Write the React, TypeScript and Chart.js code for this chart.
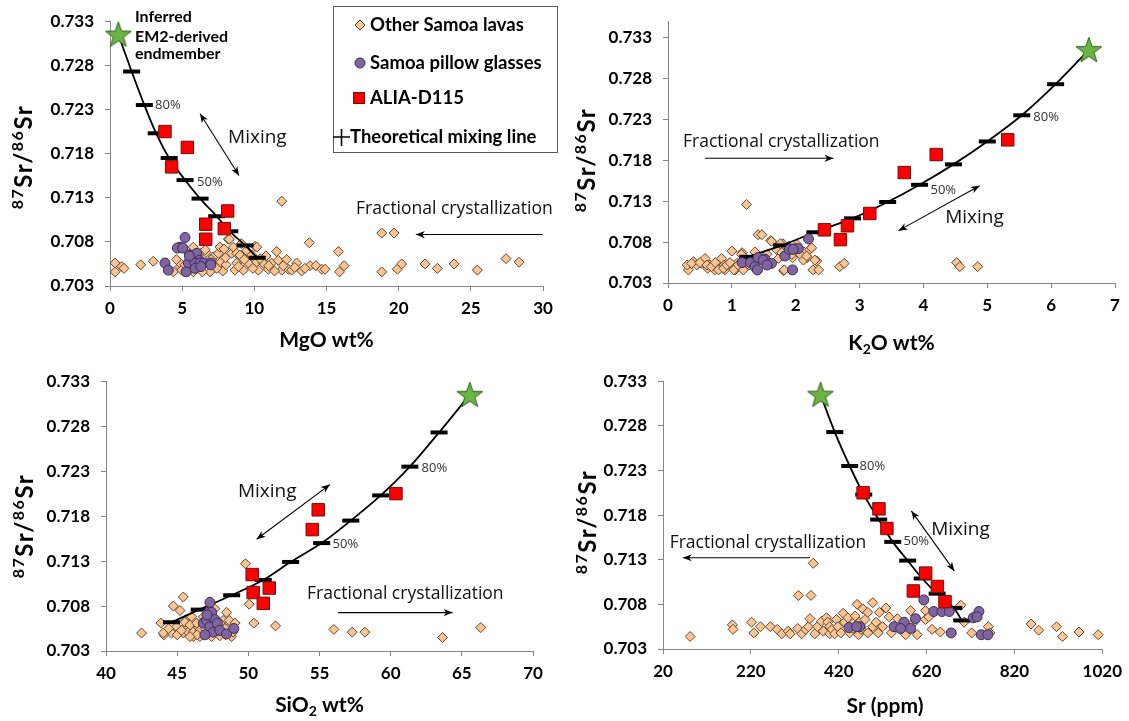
import React, { useEffect, useRef } from 'react';
import { Chart, registerables } from 'chart.js';
Chart.register(...registerables);

type Pt = [number, number];

// ---------- tick labels ----------
const yTicks = [0.703, 0.708, 0.713, 0.718, 0.723, 0.728, 0.733];
const mgoTicks = [0, 5, 10, 15, 20, 25, 30];
const k2oTicks = [0, 1, 2, 3, 4, 5, 6, 7];
const sio2Ticks = [40, 45, 50, 55, 60, 65, 70];
const srTicks = [20, 220, 420, 620, 820, 1020];

// ---------- theoretical mixing line (0%..90%) + endmember ----------
const mixSr = [0.7062, 0.7076, 0.7092, 0.7109, 0.7129, 0.715, 0.7175, 0.7203, 0.7235, 0.7273];
const endSr = 0.7315;
const mixMgO = [10.2, 9.36, 8.3, 7.39, 6.24, 5.2, 4.1, 3.2, 2.38, 1.5];
const endMgO = 0.58;
const mixK2O = [1.25, 1.78, 2.3, 2.89, 3.44, 3.94, 4.47, 5.0, 5.54, 6.07];
const endK2O = 6.59;
const mixSiO2 = [44.6, 46.55, 48.83, 51.05, 52.97, 55.15, 57.2, 59.3, 61.35, 63.4];
const endSiO2 = 65.56;
const mixSrPpm = [700, 682, 644, 610, 577, 543, 511, 477, 445, 411];
const endSrPpm = 378.6;

// ---------- ALIA-D115 ----------
const aliaSr = [0.7205, 0.7187, 0.7165, 0.7115, 0.71, 0.7095, 0.7083];
const aliaMgO = [3.81, 5.36, 4.27, 8.15, 6.63, 7.92, 6.63];
const aliaK2O = [5.32, 4.2, 3.7, 3.16, 2.81, 2.45, 2.7];
const aliaSiO2 = [60.37, 54.91, 54.49, 50.27, 51.47, 50.34, 51.05];
const aliaSrPpm = [475.5, 511.6, 529.7, 618, 644.6, 589.9, 662];

// ---------- Other Samoa lavas ----------
const lavasMgO: Pt[] = [
  [0.35, 0.7056], [0.35, 0.7046], [0.81, 0.7052], [0.97, 0.705], [2.13, 0.7054], [3.0, 0.7058],
  [4.39, 0.7046], [4.85, 0.7052], [4.85, 0.7056], [4.97, 0.7048], [5.2, 0.7054], [5.2, 0.7072],
  [5.77, 0.7046], [5.77, 0.7074], [6.24, 0.7067], [6.65, 0.7068], [6.82, 0.7056], [6.93, 0.7046],
  [7.16, 0.7063], [7.28, 0.7056], [7.51, 0.7067], [7.62, 0.7074], [7.67, 0.7057], [7.81, 0.7047],
  [8.04, 0.7054], [8.2, 0.7083], [8.27, 0.7083], [8.43, 0.7067], [8.55, 0.7074], [8.66, 0.7048],
  [8.78, 0.7056], [8.78, 0.7067], [9.01, 0.7065], [9.24, 0.7048], [9.47, 0.707], [9.47, 0.7059],
  [9.59, 0.7056], [9.82, 0.7065], [10.05, 0.7075], [10.16, 0.7057], [10.17, 0.7074], [10.28, 0.7048],
  [10.63, 0.7056], [10.81, 0.7064], [10.97, 0.7049], [11.2, 0.7056], [11.55, 0.7069], [11.66, 0.7059],
  [11.9, 0.7048], [11.9, 0.7126], [12.24, 0.706], [12.36, 0.7049], [12.59, 0.7048], [12.93, 0.7056],
  [13.28, 0.7047], [13.81, 0.7079], [13.86, 0.7053], [14.27, 0.7053], [14.67, 0.7049], [14.9, 0.7049],
  [15.82, 0.7069], [15.9, 0.7046], [16.22, 0.7053], [18.83, 0.709], [19.68, 0.709], [18.83, 0.7046],
  [19.91, 0.7049], [20.21, 0.7055], [21.83, 0.7055], [22.68, 0.705], [23.84, 0.7055], [25.45, 0.7048],
  [27.44, 0.7061], [28.34, 0.7057],
  [5.5, 0.7048], [6.0, 0.7052], [6.4, 0.7046], [7.0, 0.706], [7.4, 0.705], [8.0, 0.7062],
  [8.9, 0.7052], [9.3, 0.706], [9.9, 0.705], [10.4, 0.7061], [11.0, 0.7053], [11.4, 0.7047],
  [12.0, 0.7053], [12.8, 0.7051], [13.5, 0.705], [6.6, 0.7071], [7.9, 0.7072], [9.1, 0.7078],
  [4.6, 0.706], [5.9, 0.7058],
];
const lavasK2O: Pt[] = [
  [0.32, 0.7046], [0.3, 0.7052], [0.4, 0.7056], [0.45, 0.7052], [0.52, 0.7054], [0.58, 0.706],
  [0.62, 0.7048], [0.66, 0.7052], [0.73, 0.7046], [0.76, 0.7054], [0.84, 0.706], [0.88, 0.7052],
  [0.89, 0.7046], [0.96, 0.7054], [1.0, 0.7069], [1.05, 0.7046], [1.08, 0.7054], [1.16, 0.7067],
  [1.18, 0.7046], [1.23, 0.7126], [1.26, 0.7057], [1.31, 0.7054], [1.36, 0.7068], [1.41, 0.7089],
  [1.47, 0.7089], [1.55, 0.7054], [1.61, 0.7082], [1.7, 0.7071], [1.73, 0.706], [1.8, 0.7078],
  [1.81, 0.7045], [1.89, 0.7075], [1.95, 0.7061], [2.02, 0.7077], [2.08, 0.7065], [2.13, 0.7068],
  [2.18, 0.7061], [2.22, 0.7071], [2.27, 0.7046], [2.33, 0.7057], [2.36, 0.7046], [2.69, 0.705],
  [2.76, 0.7054], [4.52, 0.7055], [4.57, 0.705], [4.85, 0.705],
  [0.37, 0.7054], [0.5, 0.7055], [0.61, 0.7052], [0.68, 0.705], [0.74, 0.7055], [0.79, 0.7046],
  [0.87, 0.7048], [0.92, 0.7052], [0.97, 0.7055], [1.03, 0.7046], [1.1, 0.7052], [1.15, 0.7065],
  [1.18, 0.7055], [1.27, 0.7052], [1.39, 0.7061], [1.55, 0.7065], [1.62, 0.7081], [1.76, 0.7078],
  [1.78, 0.7067], [1.82, 0.7046], [1.94, 0.7065], [2.07, 0.7065], [2.12, 0.7058], [2.17, 0.7063],
  [2.25, 0.7073], [2.3, 0.7058],
];
const lavasSiO2: Pt[] = [
  [42.5, 0.705], [43.86, 0.7061], [44.07, 0.7048], [44.73, 0.708], [45.43, 0.709], [45.2, 0.7075],
  [44.96, 0.7057], [44.61, 0.705], [45.43, 0.705], [45.66, 0.7057], [46.01, 0.7068], [46.13, 0.7046],
  [46.36, 0.7054], [46.6, 0.7046], [46.72, 0.7061], [46.95, 0.7053], [47.07, 0.7064], [47.42, 0.7046],
  [47.65, 0.7077], [47.77, 0.7057], [48.0, 0.7047], [48.23, 0.7064], [48.47, 0.7073], [48.7, 0.7057],
  [48.82, 0.7046], [48.93, 0.7051], [49.05, 0.7061], [49.8, 0.7127], [50.06, 0.7082], [50.39, 0.7061],
  [51.91, 0.7058], [46.84, 0.7068], [45.55, 0.7064], [45.78, 0.7051],
  [44.03, 0.705], [45.55, 0.7062], [45.9, 0.7059], [46.13, 0.7051], [46.37, 0.7061], [46.6, 0.7053],
  [46.95, 0.7055], [47.42, 0.7064], [47.65, 0.7053], [48.0, 0.7061], [48.36, 0.7055], [48.66, 0.7064],
  [49.06, 0.7061], [45.0, 0.7048], [45.3, 0.7053], [46.4, 0.7048], [47.2, 0.705], [47.9, 0.7052],
  [48.4, 0.7048], [44.4, 0.7055], [45.9, 0.7046],
  [56.01, 0.7054], [57.3, 0.7051], [58.19, 0.7051], [63.64, 0.7045], [66.33, 0.7056],
];
const lavasSrPpm: Pt[] = [
  [81.7, 0.7044], [177.9, 0.7057], [179.5, 0.7052], [221.6, 0.706], [226.8, 0.7048], [241.9, 0.7055],
  [264.4, 0.7055], [280, 0.7052], [290.6, 0.7047], [305, 0.705], [309.5, 0.7047], [326.7, 0.7053],
  [328.2, 0.709], [335.7, 0.7047], [345, 0.7052], [350.8, 0.7055], [354.5, 0.7064], [356.8, 0.709],
  [362, 0.7126], [365.7, 0.7047], [371.7, 0.7055], [380.7, 0.7061], [385, 0.705], [392, 0.7065],
  [395, 0.706], [399.5, 0.7047], [399.5, 0.7055], [405, 0.7052], [410.8, 0.7047], [415, 0.7063],
  [418.3, 0.7055], [425, 0.7048], [430, 0.707], [433.3, 0.706], [440.8, 0.7065], [445, 0.7048],
  [452.1, 0.7053], [455, 0.706], [457.4, 0.7067], [461.9, 0.708], [465, 0.7046], [467.2, 0.706],
  [470.9, 0.7052], [471.2, 0.7055], [474.9, 0.7075], [480, 0.7063], [486.2, 0.7071], [486.2, 0.7048],
  [497.5, 0.7082], [497.5, 0.7055], [505, 0.706], [510, 0.7048], [512.5, 0.7071], [520, 0.7055],
  [527.5, 0.7076], [535, 0.7066], [540, 0.7048], [553.6, 0.7064], [560, 0.7052], [572.4, 0.7046],
  [583.6, 0.7073], [587.4, 0.7058], [598.7, 0.7046], [617.5, 0.7073], [617.5, 0.7063], [625, 0.7066],
  [632.5, 0.7052], [651.3, 0.7049], [698, 0.7079], [705.5, 0.706], [722.8, 0.7048], [760.4, 0.7055],
  [764.1, 0.7048], [858, 0.7058], [875.2, 0.7051], [915.8, 0.7055], [929.3, 0.7044], [967, 0.7049],
  [1010.6, 0.7046],
];

// ---------- Samoa pillow glasses ----------
const glassMgO: Pt[] = [
  [5.2, 0.7085], [4.85, 0.7074], [4.67, 0.7073], [5.04, 0.7073], [5.54, 0.7065], [6.01, 0.7067],
  [5.66, 0.7057], [5.43, 0.7056], [6.19, 0.7059], [5.89, 0.7056], [6.24, 0.7056], [6.51, 0.7056],
  [6.98, 0.7056], [3.81, 0.7056], [4.04, 0.7048], [5.27, 0.7046], [5.5, 0.7064], [6.98, 0.7054],
  [5.9, 0.705], [6.3, 0.7052],
];
const glassK2O: Pt[] = [
  [1.16, 0.7055], [1.29, 0.7055], [1.36, 0.705], [1.41, 0.7061], [1.52, 0.7059], [1.62, 0.7054],
  [1.83, 0.7063], [1.9, 0.7071], [1.95, 0.7046], [2.01, 0.7072], [2.04, 0.7072], [2.2, 0.7084],
  [1.4, 0.7046], [1.49, 0.7058], [1.55, 0.7052], [1.96, 0.7071],
];
const glassSiO2: Pt[] = [
  [47.3, 0.7084], [47.19, 0.7073], [47.42, 0.7073], [46.84, 0.7061], [47.07, 0.7064], [47.65, 0.7065],
  [47.3, 0.7057], [47.82, 0.7061], [47.54, 0.7051], [48.0, 0.7053], [48.47, 0.7049], [48.98, 0.7055],
  [46.95, 0.7048], [47.1, 0.707],
];
const glassSrPpm: Pt[] = [
  [613.8, 0.7085], [636.3, 0.7072], [655, 0.7072], [671.6, 0.7072], [726.5, 0.7065], [739.2, 0.7072],
  [735, 0.7066], [676.1, 0.7048], [744.5, 0.7046], [759.5, 0.7046], [546, 0.7055], [568.6, 0.706],
  [583.6, 0.7053], [561, 0.7053], [594.8, 0.7064], [467.5, 0.7055], [443.3, 0.7054], [460.6, 0.7055],
];

// ---------- styles ----------
const LAVA_FILL = '#fac493';
const LAVA_EDGE = '#5e4632';
const GLASS_FILL = '#8064a2';
const GLASS_EDGE = '#3b2d52';
const RED_FILL = '#ff0000';
const RED_EDGE = '#6e1010';
const AXIS = '#868686';
const BOLD = 'Lato, "DejaVu Sans", sans-serif';
const REG = '"Open Sans", "DejaVu Sans", sans-serif';

type Part = { t: string; sup?: boolean; sub?: boolean };
type Txt = { t: string; x: number; y: number; font: string; color: string };
type Arrow = { x1: number; y1: number; x2: number; y2: number; both?: boolean };

interface PanelCfg {
  rect: { x: number; y: number; w: number; h: number };
  area: { l: number; t: number; r: number; b: number };
  xMin: number; xMax: number; yMax: number; xTicks: number[];
  lavas: Pt[]; glass: Pt[]; aliaX: number[]; mixX: number[]; endX: number;
  xTitle: Part[]; xTitlePos: [number, number]; yTitlePos: [number, number];
  texts: Txt[]; arrows: Arrow[]; legend?: boolean;
}

const pctFont = `13px ${REG}`;
const mixFont = `19px ${REG}`;
const fcFont = `17.5px ${REG}`;
const lblFont = `bold 16px ${BOLD}`;

const panels: PanelCfg[] = [
  {
    rect: { x: 0, y: 0, w: 565, h: 360 }, area: { l: 110, t: 20, r: 543, b: 286 },
    xMin: 0, xMax: 30, yMax: 0.733, xTicks: mgoTicks,
    lavas: lavasMgO, glass: glassMgO, aliaX: aliaMgO, mixX: mixMgO, endX: endMgO,
    xTitle: [{ t: 'MgO wt%' }], xTitlePos: [326.5, 339], yTitlePos: [23, 157],
    texts: [
      { t: 'Inferred', x: 1.73, y: 0.73349, font: lblFont, color: '#000' },
      { t: 'EM2-derived', x: 1.73, y: 0.73125, font: lblFont, color: '#000' },
      { t: 'endmember', x: 1.73, y: 0.72928, font: lblFont, color: '#000' },
      { t: '80%', x: 3.12, y: 0.72352, font: pctFont, color: '#333' },
      { t: '50%', x: 6.03, y: 0.71473, font: pctFont, color: '#333' },
      { t: 'Mixing', x: 8.18, y: 0.7198, font: mixFont, color: '#111' },
      { t: 'Fractional crystallization', x: 17.05, y: 0.71168, font: fcFont, color: '#111' },
    ],
    arrows: [
      { x1: 6.24, y1: 0.72251, x2: 8.94, y2: 0.71552, both: true },
      { x1: 29.99, y1: 0.70883, x2: 21.19, y2: 0.70883 },
    ],
    legend: true,
  },
  {
    rect: { x: 565, y: 0, w: 564, h: 360 }, area: { l: 668, t: 14, r: 1115, b: 283 },
    xMin: 0, xMax: 7, yMax: 0.735, xTicks: k2oTicks,
    lavas: lavasK2O, glass: glassK2O, aliaX: aliaK2O, mixX: mixK2O, endX: endK2O,
    xTitle: [{ t: 'K' }, { t: '2', sub: true }, { t: 'O wt%' }], xTitlePos: [891.5, 342], yTitlePos: [586, 160],
    texts: [
      { t: 'Fractional crystallization', x: 0.235, y: 0.72027, font: fcFont, color: '#111' },
      { t: '80%', x: 5.72, y: 0.72324, font: pctFont, color: '#333' },
      { t: '50%', x: 4.11, y: 0.71432, font: pctFont, color: '#333' },
      { t: 'Mixing', x: 4.34, y: 0.71099, font: mixFont, color: '#111' },
    ],
    arrows: [
      { x1: 0.58, y1: 0.71824, x2: 2.59, y2: 0.71824 },
      { x1: 3.61, y1: 0.7094, x2: 4.88, y2: 0.71488, both: true },
    ],
  },
  {
    rect: { x: 0, y: 360, w: 565, h: 361 }, area: { l: 106, t: 379, r: 533, b: 651 },
    xMin: 40, xMax: 70, yMax: 0.733, xTicks: sio2Ticks,
    lavas: lavasSiO2, glass: glassSiO2, aliaX: aliaSiO2, mixX: mixSiO2, endX: endSiO2,
    xTitle: [{ t: 'SiO' }, { t: '2', sub: true }, { t: ' wt%' }], xTitlePos: [319.5, 704], yTitlePos: [24, 526],
    texts: [
      { t: 'Mixing', x: 49.27, y: 0.72076, font: mixFont, color: '#111' },
      { t: '80%', x: 62.17, y: 0.72333, font: pctFont, color: '#333' },
      { t: '50%', x: 55.92, y: 0.71488, font: pctFont, color: '#333' },
      { t: 'Fractional crystallization', x: 54.12, y: 0.70936, font: fcFont, color: '#111' },
    ],
    arrows: [
      { x1: 50.58, y1: 0.71543, x2: 55.73, y2: 0.7215, both: true },
      { x1: 56.31, y1: 0.70727, x2: 64.35, y2: 0.70727 },
    ],
  },
  {
    rect: { x: 565, y: 360, w: 564, h: 361 }, area: { l: 663, t: 378, r: 1107, b: 649 },
    xMin: 20, xMax: 1020, yMax: 0.733, xTicks: srTicks,
    lavas: lavasSrPpm, glass: glassSrPpm, aliaX: aliaSrPpm, mixX: mixSrPpm, endX: endSrPpm,
    xTitle: [{ t: 'Sr (ppm)' }], xTitlePos: [885, 705], yTitlePos: [587, 522],
    texts: [
      { t: '80%', x: 467.4, y: 0.72348, font: pctFont, color: '#333' },
      { t: '50%', x: 567.4, y: 0.71507, font: pctFont, color: '#333' },
      { t: 'Mixing', x: 630.5, y: 0.71643, font: mixFont, color: '#111' },
      { t: 'Fractional crystallization', x: 35.1, y: 0.71488, font: fcFont, color: '#111' },
    ],
    arrows: [
      { x1: 585.4, y1: 0.71847, x2: 683.1, y2: 0.71175, both: true },
      { x1: 354.7, y1: 0.71322, x2: 65.1, y2: 0.71322 },
    ],
  },
];

const yTitle: Part[] = [{ t: '87', sup: true }, { t: 'Sr/' }, { t: '86', sup: true }, { t: 'Sr' }];

function makeStar(): HTMLCanvasElement {
  const c = document.createElement('canvas');
  const s = 30;
  c.width = s; c.height = s;
  const g = c.getContext('2d')!;
  g.beginPath();
  for (let i = 0; i < 10; i++) {
    const r = i % 2 === 0 ? 13.5 : 5.4;
    const a = -Math.PI / 2 + (i * Math.PI) / 5;
    const x = s / 2 + r * Math.cos(a);
    const y = s / 2 + 1 + r * Math.sin(a);
    if (i === 0) g.moveTo(x, y); else g.lineTo(x, y);
  }
  g.closePath();
  g.fillStyle = '#6cb444';
  g.fill();
  g.strokeStyle = '#2c5a1a';
  g.lineWidth = 1;
  g.stroke();
  return c;
}

function drawRich(ctx: CanvasRenderingContext2D, parts: Part[], cx: number, cy: number, size: number, small: number, rotate: boolean, spacing = 0) {
  const mainF = `bold ${size}px ${BOLD}`;
  const smallF = `bold ${small}px ${BOLD}`;
  const widths = parts.map((p) => {
    ctx.font = p.sup || p.sub ? smallF : mainF;
    return ctx.measureText(p.t).width + spacing * p.t.length;
  });
  const total = widths.reduce((a, b) => a + b, 0);
  ctx.save();
  ctx.translate(cx, cy);
  if (rotate) ctx.rotate(-Math.PI / 2);
  ctx.textBaseline = 'alphabetic';
  ctx.textAlign = 'left';
  ctx.fillStyle = '#000';
  (ctx as any).letterSpacing = `${spacing}px`;
  let x = -total / 2;
  const base = size * 0.36;
  parts.forEach((p, i) => {
    ctx.font = p.sup || p.sub ? smallF : mainF;
    const dy = p.sup ? -size * 0.36 : p.sub ? size * 0.2 : 0;
    ctx.fillText(p.t, x, base + dy);
    x += widths[i];
  });
  (ctx as any).letterSpacing = '0px';
  ctx.restore();
}

function arrowHead(ctx: CanvasRenderingContext2D, fx: number, fy: number, tx: number, ty: number) {
  const a = Math.atan2(ty - fy, tx - fx);
  const L = 9, W = 3.6;
  ctx.beginPath();
  ctx.moveTo(tx, ty);
  ctx.lineTo(tx - L * Math.cos(a) + W * Math.sin(a), ty - L * Math.sin(a) - W * Math.cos(a));
  ctx.lineTo(tx - L * 0.7 * Math.cos(a), ty - L * 0.7 * Math.sin(a));
  ctx.lineTo(tx - L * Math.cos(a) - W * Math.sin(a), ty - L * Math.sin(a) + W * Math.cos(a));
  ctx.closePath();
  ctx.fill();
}

function drawLegend(ctx: CanvasRenderingContext2D) {
  ctx.save();
  ctx.fillStyle = '#fff';
  ctx.fillRect(333.5, 6.5, 224, 146);
  ctx.strokeStyle = '#5a5a5a';
  ctx.lineWidth = 1;
  ctx.strokeRect(333.5, 6.5, 224, 146);
  // diamond
  ctx.beginPath();
  ctx.moveTo(360, 20); ctx.lineTo(365, 25); ctx.lineTo(360, 30); ctx.lineTo(355, 25); ctx.closePath();
  ctx.fillStyle = LAVA_FILL; ctx.fill(); ctx.strokeStyle = LAVA_EDGE; ctx.stroke();
  // circle
  ctx.beginPath(); ctx.arc(360, 63, 5, 0, Math.PI * 2);
  ctx.fillStyle = GLASS_FILL; ctx.fill(); ctx.strokeStyle = GLASS_EDGE; ctx.stroke();
  // square
  ctx.fillStyle = RED_FILL; ctx.fillRect(353.5, 92.5, 11, 11);
  ctx.strokeStyle = RED_EDGE; ctx.strokeRect(353.5, 92.5, 11, 11);
  // cross
  ctx.strokeStyle = '#000'; ctx.lineWidth = 1.6;
  ctx.beginPath(); ctx.moveTo(333, 137); ctx.lineTo(350, 137); ctx.moveTo(341.5, 129); ctx.lineTo(341.5, 146); ctx.stroke();
  ctx.fillStyle = '#000';
  ctx.font = `bold 18.5px ${BOLD}`;
  ctx.textBaseline = 'middle';
  ctx.textAlign = 'left';
  ctx.fillText('Other Samoa lavas', 370, 25);
  ctx.fillText('Samoa pillow glasses', 370, 63);
  ctx.fillText('ALIA-D115', 370, 98);
  ctx.fillText('Theoretical mixing line', 350, 137);
  ctx.restore();
}

function Panel({ cfg }: { cfg: PanelCfg }) {
  const ref = useRef<HTMLCanvasElement | null>(null);
  useEffect(() => {
    const canvas = ref.current!;
    const { rect, area } = cfg;
    const star = makeStar();
    const tickFont = { family: BOLD, size: 17, weight: 'bold' as const };
    const annot = {
      id: 'annot' + rect.x + '_' + rect.y,
      afterDraw(chart: any) {
        const ctx: CanvasRenderingContext2D = chart.ctx;
        const xs = chart.scales.x, ys = chart.scales.y;
        const px = (v: number) => xs.getPixelForValue(v);
        const py = (v: number) => ys.getPixelForValue(v);
        ctx.save();
        ctx.textBaseline = 'middle';
        ctx.textAlign = 'left';
        for (const t of cfg.texts) {
          ctx.font = t.font;
          ctx.fillStyle = t.color;
          ctx.fillText(t.t, px(t.x), py(t.y));
        }
        ctx.strokeStyle = '#000';
        ctx.fillStyle = '#000';
        ctx.lineWidth = 1.1;
        for (const a of cfg.arrows) {
          const x1 = px(a.x1), y1 = py(a.y1), x2 = px(a.x2), y2 = py(a.y2);
          ctx.beginPath(); ctx.moveTo(x1, y1); ctx.lineTo(x2, y2); ctx.stroke();
          arrowHead(ctx, x1, y1, x2, y2);
          if (a.both) arrowHead(ctx, x2, y2, x1, y1);
        }
        drawRich(ctx, cfg.xTitle, cfg.xTitlePos[0] - rect.x, cfg.xTitlePos[1] - rect.y, 21, 14, false);
        drawRich(ctx, yTitle, cfg.yTitlePos[0] - rect.x, cfg.yTitlePos[1] - rect.y, 24, 16, true, 1.5);
        if (cfg.legend) drawLegend(ctx);
        ctx.restore();
      },
    };
    const mixData = cfg.mixX.map((x, i) => ({ x, y: mixSr[i] })).concat([{ x: cfg.endX, y: endSr }]);
    const chart = new Chart(canvas, {
      type: 'scatter',
      data: {
        datasets: [
          { label: 'endmember', data: [{ x: cfg.endX, y: endSr }], pointStyle: star as any, pointRadius: 13, clip: false as any },
          {
            label: 'ALIA-D115', data: cfg.aliaX.map((x, i) => ({ x, y: aliaSr[i] })),
            pointStyle: 'rect', pointRadius: 8.8, backgroundColor: RED_FILL, borderColor: RED_EDGE, borderWidth: 1, clip: false as any,
          },
          {
            label: 'Samoa pillow glasses', data: cfg.glass.map(([x, y]) => ({ x, y })),
            pointStyle: 'circle', pointRadius: 5, backgroundColor: GLASS_FILL, borderColor: GLASS_EDGE, borderWidth: 1, clip: false as any,
          },
          {
            label: 'Theoretical mixing line', data: mixData, showLine: true, tension: 0.3,
            borderColor: '#000', borderWidth: 1.8, pointStyle: 'line',
            pointRadius: mixData.map((_, i) => (i < cfg.mixX.length ? 8.5 : 0)),
            pointBorderWidth: 4, pointBorderColor: '#000', pointBackgroundColor: '#000', clip: false as any,
          } as any,
          {
            label: 'Other Samoa lavas', data: cfg.lavas.map(([x, y]) => ({ x, y })),
            pointStyle: 'rectRot', pointRadius: 5, backgroundColor: LAVA_FILL, borderColor: LAVA_EDGE, borderWidth: 1, clip: false as any,
          },
        ],
      },
      options: {
        animation: false,
        responsive: false,
        maintainAspectRatio: false,
        events: [],
        layout: { padding: { left: 0, top: area.t - rect.y, right: rect.x + rect.w - area.r, bottom: 0 } },
        plugins: { legend: { display: false }, tooltip: { enabled: false }, title: { display: false } },
        scales: {
          x: {
            type: 'linear', min: cfg.xMin, max: cfg.xMax,
            afterBuildTicks: (s: any) => { s.ticks = cfg.xTicks.map((v) => ({ value: v })); },
            afterFit: (s: any) => { s.height = rect.y + rect.h - area.b; },
            ticks: { font: tickFont, color: '#000', padding: 7, autoSkip: false, maxRotation: 0, callback: (v: any) => String(v) },
            grid: { display: true, drawOnChartArea: false, drawTicks: true, tickLength: 5, color: AXIS },
            border: { display: true, color: AXIS, width: 1 },
          },
          y: {
            type: 'linear', min: 0.703, max: cfg.yMax,
            afterBuildTicks: (s: any) => { s.ticks = yTicks.map((v) => ({ value: v })); },
            afterFit: (s: any) => { s.width = area.l - rect.x; },
            ticks: { font: tickFont, color: '#000', padding: 11, autoSkip: false, callback: (v: any) => Number(v).toFixed(3) },
            grid: { display: true, drawOnChartArea: false, drawTicks: true, tickLength: 5, color: AXIS },
            border: { display: true, color: AXIS, width: 1 },
          },
        },
      } as any,
      plugins: [annot],
    });
    return () => chart.destroy();
  }, [cfg]);
  const { rect } = cfg;
  return (
    <canvas
      ref={ref}
      width={rect.w}
      height={rect.h}
      style={{ position: 'absolute', left: rect.x, top: rect.y, width: rect.w, height: rect.h }}
    />
  );
}

export default function App() {
  return (
    <div style={{ position: 'absolute', left: 0, top: 0, width: 1129, height: 721, background: '#fff', overflow: 'hidden' }}>
      {panels.map((p, i) => (
        <Panel key={i} cfg={p} />
      ))}
    </div>
  );
}
